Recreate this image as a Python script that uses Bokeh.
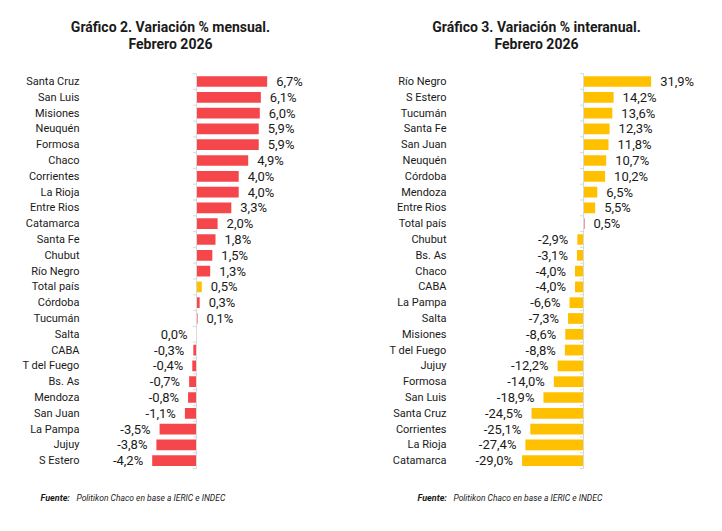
from bokeh.plotting import figure
from bokeh.layouts import row
from bokeh.models import Range1d
from bokeh.core.properties import value
from bokeh.embed import file_html
from bokeh.resources import INLINE

# ---- data ----
mensual_names = ["Santa Cruz", "San Luis", "Misiones", "Neuquén", "Formosa", "Chaco",
                 "Corrientes", "La Rioja", "Entre Rios", "Catamarca", "Santa Fe", "Chubut",
                 "Río Negro", "Total país", "Córdoba", "Tucumán", "Salta", "CABA",
                 "T del Fuego", "Bs. As", "Mendoza", "San Juan", "La Pampa", "Jujuy", "S Estero"]
mensual_values = [6.7, 6.1, 6.0, 5.9, 5.9, 4.9, 4.0, 4.0, 3.3, 2.0, 1.8, 1.5, 1.3, 0.5,
                  0.3, 0.1, 0.0, -0.3, -0.4, -0.7, -0.8, -1.1, -3.5, -3.8, -4.2]

interanual_names = ["Río Negro", "S Estero", "Tucumán", "Santa Fe", "San Juan", "Neuquén",
                    "Córdoba", "Mendoza", "Entre Rios", "Total país", "Chubut", "Bs. As",
                    "Chaco", "CABA", "La Pampa", "Salta", "Misiones", "T del Fuego", "Jujuy",
                    "Formosa", "San Luis", "Santa Cruz", "Corrientes", "La Rioja", "Catamarca"]
interanual_values = [31.9, 14.2, 13.6, 12.3, 11.8, 10.7, 10.2, 6.5, 5.5, 0.5, -2.9, -3.1,
                     -4.0, -4.0, -6.6, -7.3, -8.6, -8.8, -12.2, -14.0, -18.9, -24.5, -25.1,
                     -27.4, -29.0]

highlight = "Total país"
RED = "#F5474B"
YELLOW = "#FFC000"
FONT = "Roboto"
TXT = "#1a1a1a"


def fmt(v):
    return ("%.1f" % v).replace(".", ",") + "%"


def make(names, vals, base_color, hl_color, zero_px, px_per, label_px,
         title1, title2, title_px, foot_px):
    W, H = 361, 531
    row0, step = 81.0, 15.8
    n = len(names)
    x0 = -zero_px / px_per
    x1 = (W - zero_px) / px_per
    y_top = -row0 / step
    y_bot = (H - row0) / step
    p = figure(width=W, height=H, x_range=Range1d(x0, x1), y_range=Range1d(y_bot, y_top),
               output_backend="svg", toolbar_location=None,
               x_axis_location=None, y_axis_location=None,
               min_border=0, outline_line_color=None, background_fill_color="white",
               border_fill_color="white")
    for g in p.grid:
        g.visible = False

    ys = list(range(n))
    colors = [hl_color if nm == highlight else base_color for nm in names]
    p.hbar(y=ys, left=0, right=vals, height=0.68, fill_color=colors, line_color=None)

    # zero axis with small ticks
    p.segment(x0=[0], y0=[-0.5], x1=[0], y1=[n - 0.5], line_color="#D9D9D9", line_width=1)
    tb = [i - 0.5 for i in range(n + 1)]
    p.segment(x0=[-3.5 / px_per] * len(tb), y0=tb, x1=[0] * len(tb), y1=tb,
              line_color="#D9D9D9", line_width=1)

    # category labels
    p.text(x=[(label_px - zero_px) / px_per] * n, y=ys, text=names,
           text_align="right", text_baseline="middle",
           text_font=value(FONT), text_font_size="11px", text_color=TXT)

    # value labels
    off = 9.0 / px_per
    pos = [(v, i) for i, v in enumerate(vals) if v > 0]
    neg = [(v, i) for i, v in enumerate(vals) if v <= 0]
    p.text(x=[v + off for v, i in pos], y=[i for v, i in pos], text=[fmt(v) for v, i in pos],
           text_align="left", text_baseline="middle",
           text_font=value(FONT), text_font_size="13px", text_color=TXT)
    p.text(x=[v - off for v, i in neg], y=[i for v, i in neg], text=[fmt(v) for v, i in neg],
           text_align="right", text_baseline="middle",
           text_font=value(FONT), text_font_size="13px", text_color=TXT)

    # titles
    tx = (title_px - zero_px) / px_per
    p.text(x=[tx, tx], y=[(26 - row0) / step, (43.5 - row0) / step], text=[title1, title2],
           text_align="center", text_baseline="middle", text_font=value(FONT),
           text_font_size="14px", text_font_style="bold", text_color=TXT)

    # footnote
    fy = (497 - row0) / step
    p.text(x=[(foot_px - zero_px) / px_per], y=[fy], text=["Fuente:"],
           text_align="left", text_baseline="middle", text_font=value(FONT),
           text_font_size="9px", text_font_style="bold italic", text_color=TXT)
    p.text(x=[(foot_px + 36 - zero_px) / px_per], y=[fy],
           text=["Politikon Chaco en base a IERIC e INDEC"],
           text_align="left", text_baseline="middle", text_font=value(FONT),
           text_font_size="8.5px", text_font_style="italic", text_color=TXT)
    return p


p1 = make(mensual_names, mensual_values, RED, YELLOW, 196, 10.55, 79,
          "Gráfico 2. Variación % mensual.", "Febrero 2026", 170, 40)
p2 = make(interanual_names, interanual_values, YELLOW, RED, 222, 2.12, 85,
          "Gráfico 3. Variación % interanual.", "Febrero 2026", 175, 56)

layout = row(p1, p2)
open("out.html", "w").write(file_html(layout, INLINE))
